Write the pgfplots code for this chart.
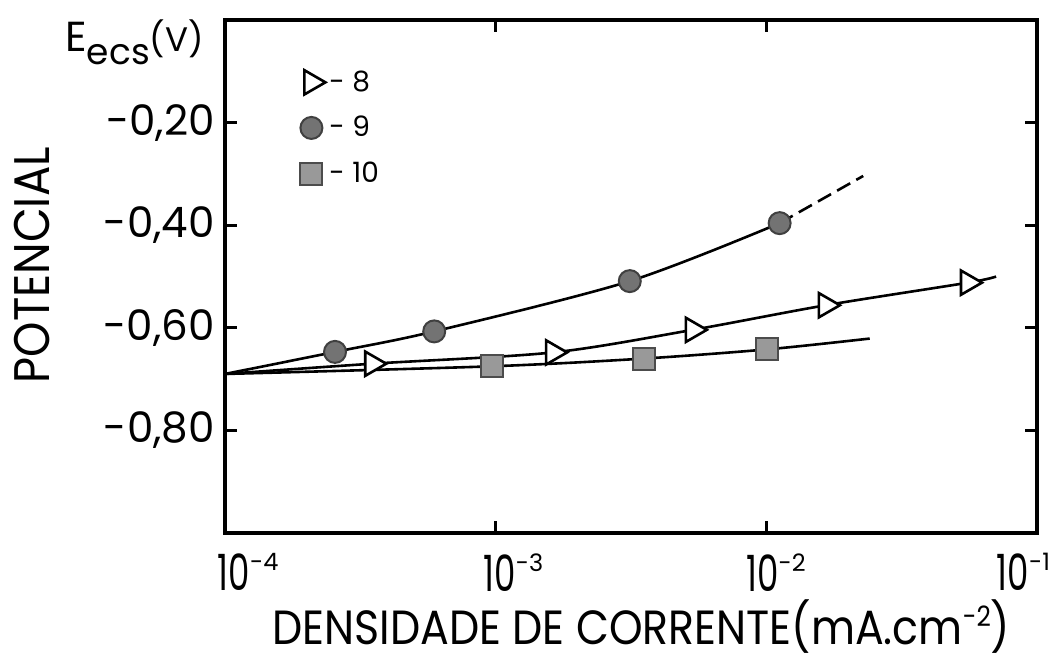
\documentclass[border=0pt]{standalone}
\usepackage{fontspec}
\setmainfont{Poppins}
\usepackage{graphicx}
\usepackage{pgfplots}
\pgfplotsset{compat=1.18}
\newcommand{\xt}[2]{\makebox[0pt][l]{\hspace*{#2}\scalebox{0.68}[1]{10}\raisebox{10pt}{\fontsize{12}{12}\selectfont -#1}}}
\begin{document}
\begin{tikzpicture}
\begin{axis}[
  scale only axis, width=406pt, height=256.5pt,
  xmode=log, xmin=1e-4, xmax=1e-1, ymin=-1.0, ymax=0,
  axis line style={line width=2pt},
  xtick={1e-4,1e-3,1e-2,1e-1},
  xticklabels={\xt{4}{-3.5pt},\xt{3}{-6pt},\xt{2}{-10pt},\xt{1}{-20pt}},
  ytick={-0.8,-0.6,-0.4,-0.2},
  yticklabels={{-0,80},{-0,60},{-0,40},{-0,20}},
  xminorticks=false, yminorticks=false,
  tick align=inside, major tick length=6pt,
  tick style={line width=1.5pt, black},
  xticklabel style={font=\fontsize{25}{25}\selectfont, inner sep=0pt, anchor=north, yshift=-10pt},
  yticklabel style={font=\fontsize{21}{21}\selectfont, inner sep=0pt, xshift=-5pt},
  clip=false,
  legend style={draw=none, fill=none, inner sep=0pt, at={(rel axis cs:0.0924,0.910)}, anchor=north west,
    font=\fontsize{14}{14}\selectfont, row sep=7pt, cells={anchor=west},
    /tikz/every even column/.append style={column sep=6pt}},
]
% curves
\addplot[black, line width=1.3pt, smooth, forget plot] coordinates {(1e-4,-0.690) (2.55e-4,-0.647) (5.93e-4,-0.607) (3.13e-3,-0.509) (1.12e-2,-0.396)};
\addplot[black, line width=1.3pt, dash pattern=on 7.5pt off 3.5pt, forget plot] coordinates {(1.12e-2,-0.396) (2.28e-2,-0.304)};
\addplot[black, line width=1.3pt, smooth, forget plot] coordinates {(1e-4,-0.690) (3.50e-4,-0.670) (1.63e-3,-0.648) (5.35e-3,-0.604) (1.66e-2,-0.556) (5.56e-2,-0.512) (7.06e-2,-0.500)};
\addplot[black, line width=1.3pt, smooth, forget plot] coordinates {(1e-4,-0.690) (9.72e-4,-0.675) (3.52e-3,-0.660) (1.01e-2,-0.642) (2.41e-2,-0.621)};
% marks
\addplot[only marks, mark=triangle*, mark size=7pt, mark options={rotate=-90, fill=white, draw=black, line width=1.3pt}] coordinates {(3.50e-4,-0.670) (1.63e-3,-0.648) (5.35e-3,-0.604) (1.66e-2,-0.556) (5.56e-2,-0.512)};
\addlegendentry{- 8}
\addplot[only marks, mark=*, mark size=5.5pt, mark options={fill=black!55, draw=black!75, line width=1pt}] coordinates {(2.55e-4,-0.647) (5.93e-4,-0.607) (3.13e-3,-0.509) (1.12e-2,-0.396)};
\addlegendentry{- 9}
\addplot[only marks, mark=square*, mark size=5.5pt, mark options={fill=black!40, draw=black!70, line width=1pt}] coordinates {(9.72e-4,-0.675) (3.52e-3,-0.660) (1.01e-2,-0.642)};
\addlegendentry{- 10}
% labels
\node[anchor=base west, inner sep=0pt] at (rel axis cs:-0.197,0.9376) {\fontsize{21}{21}\selectfont E\fontsize{18}{18}\selectfont\raisebox{-6.5pt}{ecs}\fontsize{17}{17}\selectfont(V)};
\node[rotate=90, font=\fontsize{25}{25}\selectfont, inner sep=0pt] at (rel axis cs:-0.2377,0.522) {\scalebox{0.9}[1]{POTENCIAL}};
\node[anchor=base west, font=\fontsize{24}{24}\selectfont, inner sep=0pt] at (rel axis cs:0.0579,-0.2164) {\scalebox{0.89}[1]{DENSIDADE DE CORRENTE(mA.cm\raisebox{9pt}{\fontsize{14}{14}\selectfont -2})}};
\end{axis}
\pgfresetboundingbox
\path[use as bounding box] ([xshift=-112.5pt, yshift=-64.5pt]current axis.south west) rectangle ([xshift=9.5pt, yshift=10pt]current axis.north east);
\end{tikzpicture}
\end{document}
